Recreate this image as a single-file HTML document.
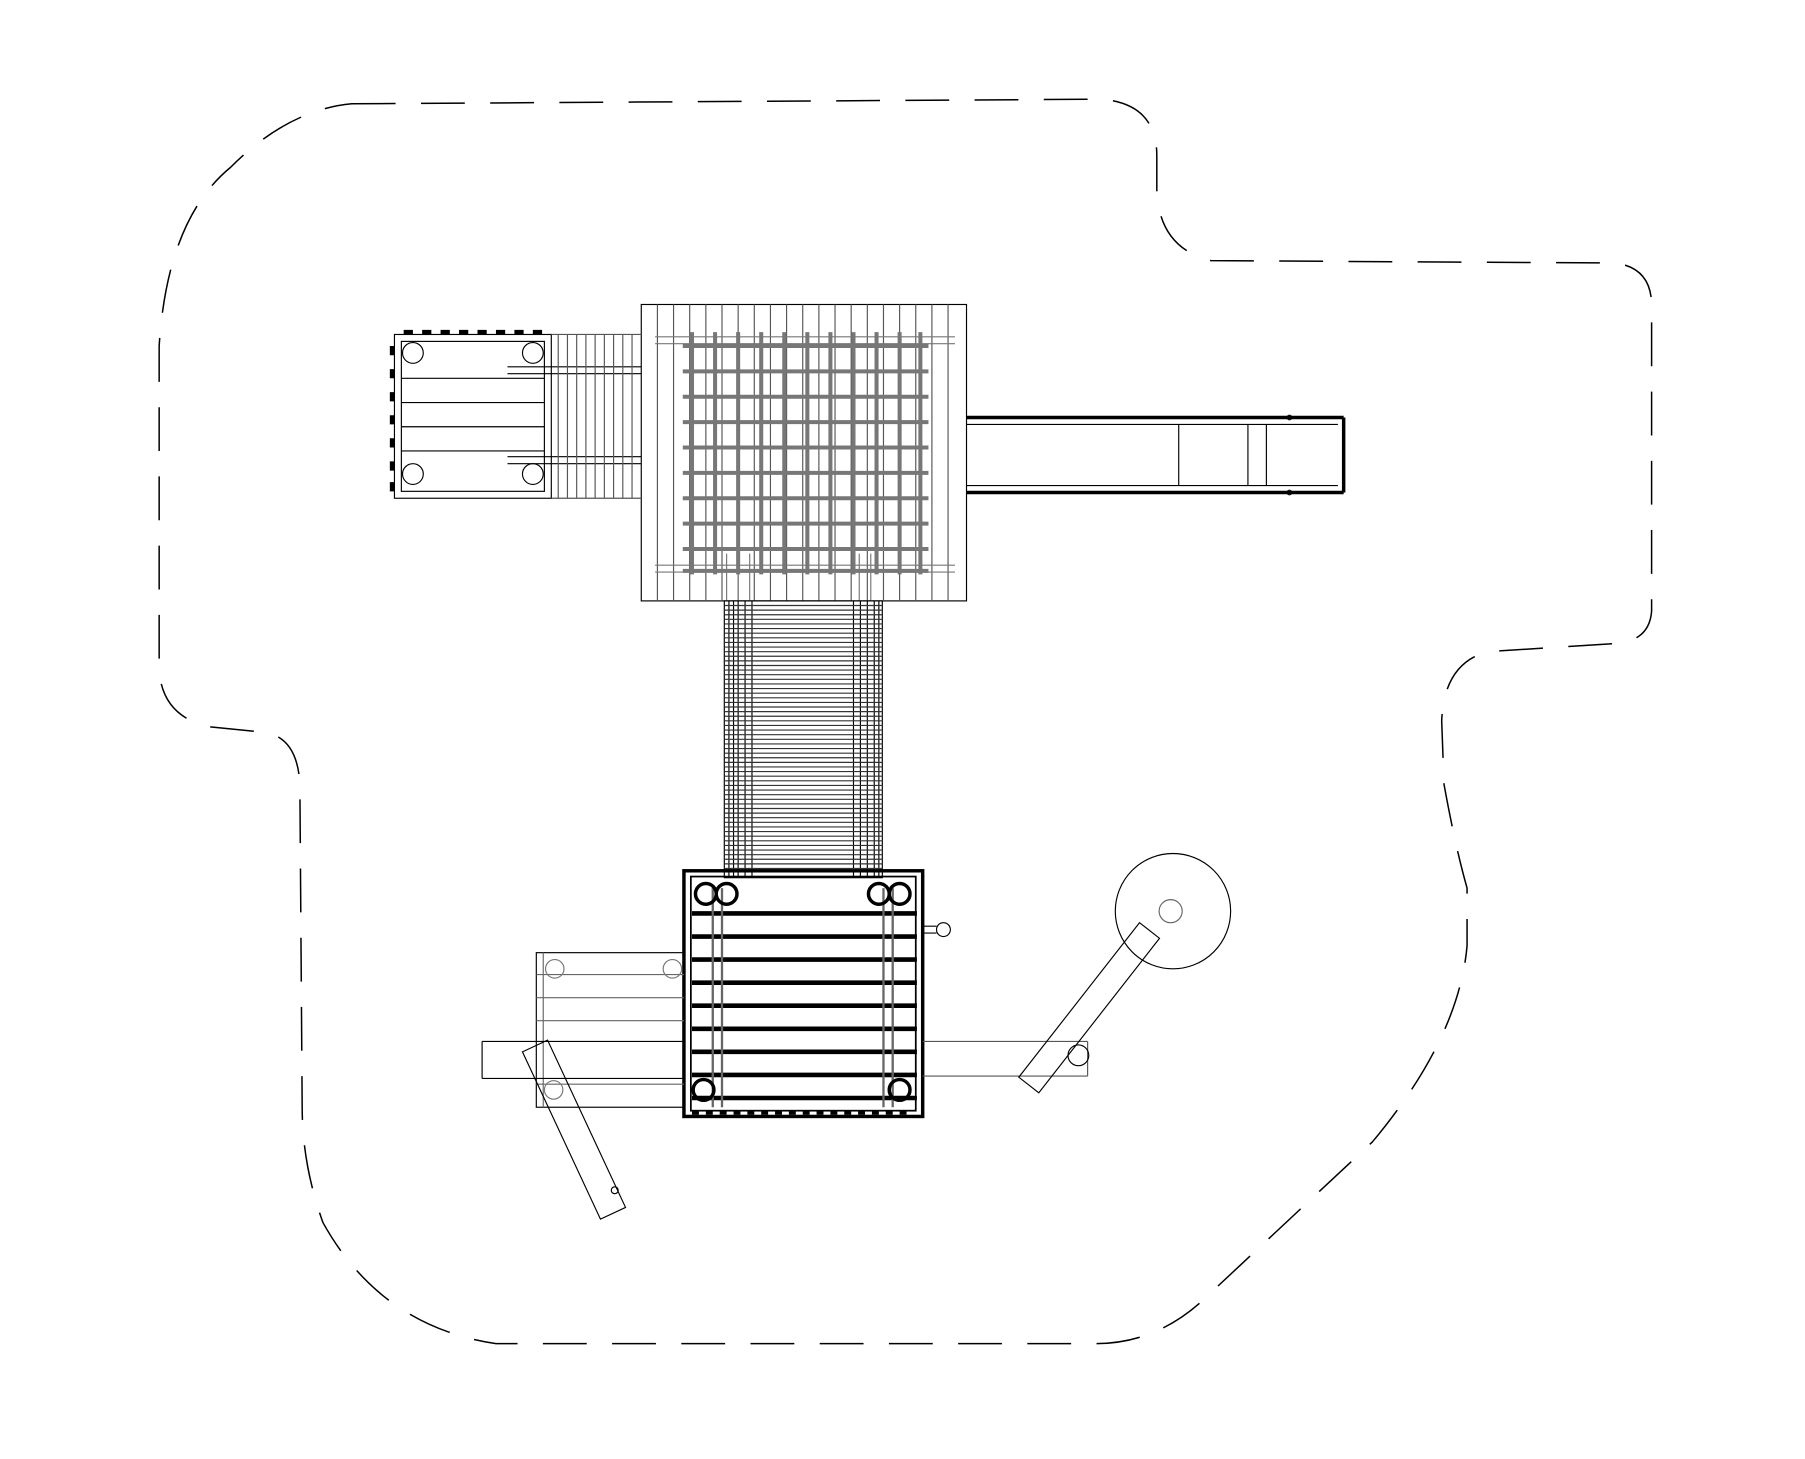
<!DOCTYPE html>
<html><head><meta charset="utf-8"><style>html,body{margin:0;padding:0;background:#fff}svg{display:block}</style></head><body>
<svg width="1805" height="1459" viewBox="0 0 1565 1265" preserveAspectRatio="none" xmlns="http://www.w3.org/2000/svg">
<rect width="1565" height="1265" fill="#fff"/>
<g fill="none" stroke="#000" stroke-width="1.3" stroke-dasharray="38,22">
<path d="M305,90 L955,86 Q1003,90 1003,135 L1003,165 Q1005,215 1050,226 L1400,228 Q1432,232 1432,265 L1432,530 Q1430,556 1400,558 L1290,565 Q1252,575 1250,625 L1252,680 Q1262,735 1272,770 L1272,820 Q1265,900 1190,990 L1040,1130 Q1000,1165 950,1165 L430,1165 Q330,1150 280,1060 Q262,1010 262,960 L260,680 Q258,640 230,635 L180,630 Q140,620 138,580 L138,300 Q145,190 200,145 Q250,95 305,90 Z"/>
</g>
<g fill="none" stroke="#000" stroke-width="1">
<rect x="556" y="264" width="282" height="257"/>
<g stroke="#555">
<path d="M570,264V521M584,264V521M598,264V521M612,264V521M626,264V521M640,264V521M654,264V521M668,264V521M682,264V521M696,264V521M710,264V521M724,264V521M738,264V521M752,264V521M766,264V521M780,264V521M794,264V521M808,264V521M822,264V521"/>
</g>
<g stroke="#777" stroke-width="3.5">
<path d="M592,300H805M592,322H805M592,344H805M592,366H805M592,388H805M592,410H805M592,432H805M592,454H805M592,476H805M592,495H805"/>
<path d="M600,288V498M620,288V498M640,288V498M660,288V498M680,288V498M700,288V498M720,288V498M740,288V498M760,288V498M780,288V498M798,288V498"/>
</g>
<path stroke="#777" d="M568,292H828M568,298H828M568,490H828M568,496H828M630,480V521M640,480V521M650,480V521M745,480V521M755,480V521"/>
<rect x="342" y="290" width="136" height="142"/>
<rect x="348" y="296" width="124" height="130"/>
<path d="M348,328H472M348,349H472M348,370H472M348,391H472"/>
<path d="M440,318H556M440,324H556M440,396H556M440,402H556"/>
<g stroke="#555"><path d="M484,290V432M492,290V432M500,290V432M508,290V432M516,290V432M524,290V432M532,290V432M540,290V432M548,290V432M478,290H556M478,432H556"/></g>
<circle cx="358" cy="306" r="9"/><circle cx="462" cy="306" r="9"/><circle cx="358" cy="411" r="9"/><circle cx="462" cy="411" r="9"/>
<g stroke-width="4"><path d="M350,288h8M366,288h8M382,288h8M398,288h8M414,288h8M430,288h8M446,288h8M462,288h8M340,300v8M340,320v8M340,340v8M340,360v8M340,380v8M340,400v8M340,418v8"/></g>
<path stroke-width="3" d="M838,362H1165M838,427H1165M1165,362V427"/>
<path d="M838,368H1160M838,421H1160M1022,368V421M1082,368V421M1098,368V421"/>
<circle cx="1118" cy="362" r="2"/><circle cx="1118" cy="427" r="2"/>
<rect x="628" y="521" width="137" height="240"/>
<path d="M632,521V761M636,521V761M640,521V761M646,521V761M652,521V761M740,521V761M746,521V761M752,521V761M758,521V761M762,521V761"/>
<path stroke="#333" d="M628,525H765M628,529H765M628,533H765M628,537H765M628,541H765M628,545H765M628,549H765M628,553H765M628,557H765M628,561H765M628,565H765M628,569H765M628,573H765M628,577H765M628,581H765M628,585H765M628,589H765M628,593H765M628,597H765M628,601H765M628,605H765M628,609H765M628,613H765M628,617H765M628,621H765M628,625H765M628,629H765M628,633H765M628,637H765M628,641H765M628,645H765M628,649H765M628,653H765M628,657H765M628,661H765M628,665H765M628,669H765M628,673H765M628,677H765M628,681H765M628,685H765M628,689H765M628,693H765M628,697H765M628,701H765M628,705H765M628,709H765M628,713H765M628,717H765M628,721H765M628,725H765M628,729H765M628,733H765M628,737H765M628,741H765M628,745H765M628,749H765M628,753H765"/>
<rect x="593" y="755" width="207" height="213" stroke-width="3"/>
<rect x="599" y="760" width="195" height="203" stroke-width="1.5"/>
<g stroke-width="4"><path d="M600,792H795M600,812H795M600,832H795M600,852H795M600,872H795M600,892H795M600,912H795M600,932H795M600,952H795"/></g>
<g stroke="#666" stroke-width="2"><path d="M618,770V960M626,770V960M766,770V960M774,770V960"/></g>
<g stroke-width="3"><circle cx="612" cy="775" r="9"/><circle cx="630" cy="775" r="9"/><circle cx="762" cy="775" r="9"/><circle cx="780" cy="775" r="9"/><circle cx="610" cy="945" r="9"/><circle cx="780" cy="945" r="9"/></g>
<path stroke-width="3" d="M600,965h6M612,965h6M624,965h6M636,965h6M648,965h6M660,965h6M672,965h6M684,965h6M696,965h6M708,965h6M720,965h6M732,965h6M744,965h6M756,965h6M768,965h6M780,965h6"/>
<circle cx="818" cy="806" r="6"/><path d="M800,803H812M800,809H812"/>
<rect x="465" y="826" width="128" height="134"/>
<path stroke="#666" d="M471,826V960M465,845H593M465,865H593M465,885H593M465,940H593"/>
<circle cx="481" cy="840" r="8" stroke="#777"/><circle cx="583" cy="840" r="8" stroke="#777"/>
<path d="M418,903H593M418,935H593M418,903V935"/>
<rect x="0" y="0" width="24" height="160" transform="translate(453,912) rotate(-25)"/>
<circle cx="533" cy="1032" r="3"/><circle cx="480" cy="945" r="8" stroke="#777"/>
<path stroke="#555" d="M800,903H943M800,933H943M943,903V933"/>
<rect x="0" y="0" width="22" height="170" transform="translate(988,800) rotate(38)"/>
<circle cx="935" cy="915" r="9"/>
<circle cx="1017" cy="790" r="50"/><circle cx="1015" cy="790" r="10" stroke="#666"/>
</g>
</svg>
</body></html>
